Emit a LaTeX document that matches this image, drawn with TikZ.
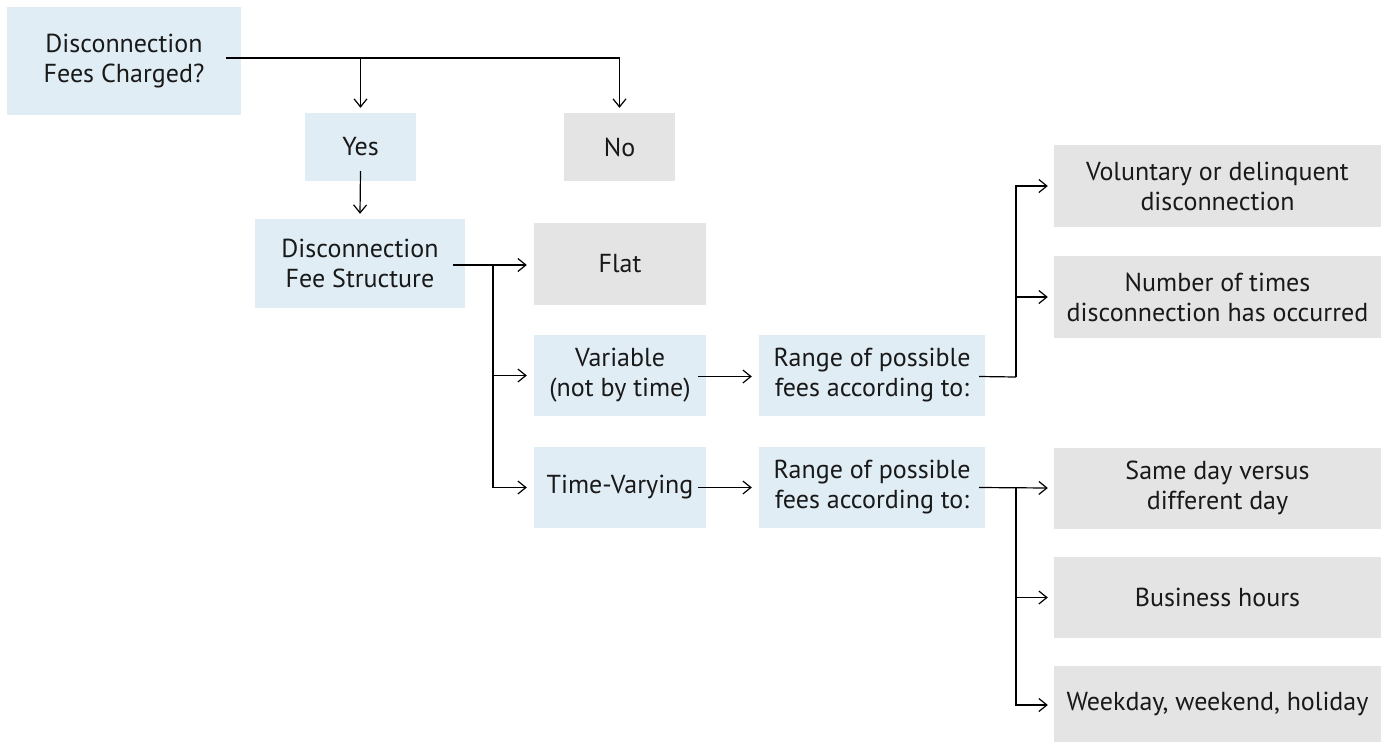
\documentclass[tikz,border=0pt]{standalone}
\usepackage{fontspec}
\setmainfont{PT Sans}
\usetikzlibrary{arrows.meta,calc}
\definecolor{bluebox}{HTML}{E1EDF5}
\definecolor{graybox}{HTML}{E4E4E4}
\begin{document}
\begin{tikzpicture}[x=1pt,y=-1pt,
  box/.style={inner sep=0pt,align=center,font=\fontsize{26}{30}\selectfont,text=black!90},
  bbox/.style={box,fill=bluebox},
  gbox/.style={box,fill=graybox},
  arr/.style={-{Straight Barb[length=8pt,width=13pt]},line width=1.2pt},
  ln/.style={line width=1.2pt}]
\useasboundingbox (0,0) rectangle (1385,742);
\node[bbox,minimum width=234,minimum height=108] (A) at (124,61) {Disconnection\\Fees Charged?};
\node[bbox,minimum width=111,minimum height=68] (Yes) at (360.5,147) {Yes};
\node[gbox,minimum width=111,minimum height=68] (No) at (619.5,147) {No};
\node[bbox,minimum width=210,minimum height=89] (DFS) at (360,263.5) {Disconnection\\Fee Structure};
\node[gbox,minimum width=172,minimum height=82] (Flat) at (620,264) {Flat};
\node[bbox,minimum width=172,minimum height=81] (Var) at (620,375.5) {Variable\\(not by time)};
\node[bbox,minimum width=172,minimum height=81] (TV) at (620,487.5) {Time-Varying};
\node[bbox,minimum width=226,minimum height=81] (R1) at (872,375.5) {Range of possible\\fees according to:};
\node[bbox,minimum width=226,minimum height=81] (R2) at (872,487.5) {Range of possible\\fees according to:};
\node[gbox,minimum width=327,minimum height=82] (Vol) at (1217.5,186) {Voluntary or delinquent\\disconnection};
\node[gbox,minimum width=327,minimum height=82] (Num) at (1217.5,297) {Number of times\\disconnection has occurred};
\node[gbox,minimum width=327,minimum height=81] (Same) at (1217.5,488) {Same day versus\\different day};
\node[gbox,minimum width=327,minimum height=81] (Bus) at (1217.5,597.5) {Business hours};
\node[gbox,minimum width=327,minimum height=76] (Week) at (1217.5,704) {Weekday, weekend, holiday};
% top branch
\coordinate (a0) at ($(A.east)+(-15pt,3pt)$);
\draw[ln] (a0) -- (a0 -| No.north);
\draw[arr] (a0 -| Yes.north) -- ([yshift=5pt]Yes.north);
\draw[arr] (a0 -| No.north) -- ([yshift=5pt]No.north);
\draw[arr] ([yshift=10pt]Yes.south) -- ([yshift=5pt]DFS.north);
% structure
\coordinate (d0) at (453,265);
\coordinate (t1) at (493,265);
\draw[arr] (d0) -- ($(d0 -| Flat.west)+(-7pt,0)$);
\draw[arr] (t1) |- ([xshift=-7pt]Var.west);
\draw[arr] (t1) |- ([xshift=-7pt]TV.west);
\draw[arr] ([xshift=-8pt,yshift=-1pt]Var.east) -- ([xshift=-7pt,yshift=-1pt]R1.west);
\draw[arr] ([xshift=-8pt]TV.east) -- ([xshift=-7pt]R2.west);
% range 1
\coordinate (r1) at (1016,377);
\draw[ln] ([xshift=-6pt,yshift=-1pt]R1.east) -- (r1);
\draw[arr] (r1) |- ([xshift=-6pt]Vol.west);
\draw[arr] (r1 |- Num.west) -- ([xshift=-6pt]Num.west);
% range 2
\coordinate (r2) at (1016,488);
\draw[arr] ([xshift=-6pt]R2.east) -- ([xshift=-6pt]Same.west);
\draw[arr] (r2) |- ([xshift=-6pt]Bus.west);
\draw[arr] (r2) |- ([xshift=-6pt,yshift=-1pt]Week.west);
\end{tikzpicture}
\end{document}
